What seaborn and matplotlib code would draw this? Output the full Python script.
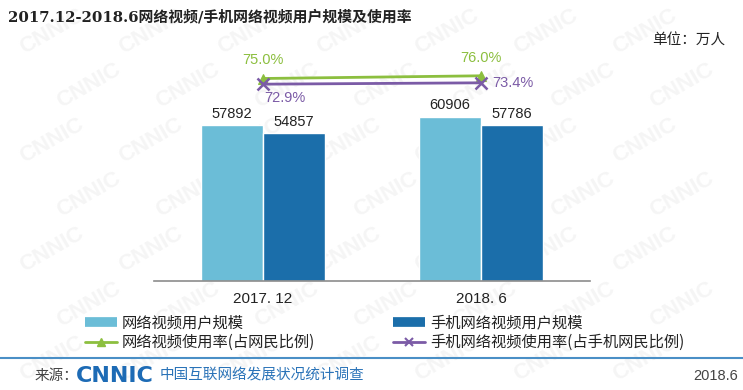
import numpy as np
import pandas as pd
import matplotlib
matplotlib.use('Agg')
import matplotlib.pyplot as plt
import seaborn as sns
from matplotlib.lines import Line2D

# data
periods = ['2017. 12', '2018. 6']
users = [57892, 60906]
mobile_users = [54857, 57786]
rate = [75.0, 76.0]
mobile_rate = [72.9, 73.4]
series_names = ['网络视频用户规模', '手机网络视频用户规模']
rate_names = ['网络视频使用率(占网民比例)', '手机网络视频使用率(占手机网民比例)']

sns.set_theme(style='white')
plt.rcParams['font.family'] = ['Liberation Sans', 'Noto Sans CJK SC', 'DejaVu Sans']

c_light = '#6bbdd7'
c_dark = '#1b6eaa'
c_green = '#8cbf3f'
c_purple = '#7b5ba6'

fig = plt.figure(figsize=(7.43, 3.90), dpi=100)

# faint watermark, kept behind the axes and inside the figure
for row in range(7):
    for col in range(7):
        fig.text(0.07 + col * 0.133 + (row % 2) * 0.05, 0.08 + row * 0.14, 'CNNIC',
                 fontsize=16, fontweight='bold', color='#f5f5f5', rotation=30,
                 zorder=-5, ha='center', va='center')

ax = fig.add_axes([154 / 743, 109 / 390, 436 / 743, 270 / 390])
ax.patch.set_alpha(0)

df = pd.DataFrame({
    'period': periods * 2,
    'value': users + mobile_users,
    'series': [series_names[0]] * 2 + [series_names[1]] * 2,
})
sns.barplot(data=df, x='period', y='value', hue='series', ax=ax,
            palette=[c_light, c_dark], width=0.566, saturation=1,
            legend=False)
for cont in ax.containers:
    ax.bar_label(cont, fmt='%d', fontsize=10.5, padding=3, color='#222222')

ax.set_xlim(-0.5, 1.5)
ax.set_ylim(0, 100000)
ax.set_xlabel('')
ax.set_ylabel('')
ax.set_yticks([])
ax.tick_params(axis='x', length=0, labelsize=11, pad=8, colors='#222222')
for s in ['top', 'left', 'right']:
    ax.spines[s].set_visible(False)
ax.spines['bottom'].set_color('#8c8c8c')
ax.spines['bottom'].set_linewidth(1.2)

ax2 = ax.twinx()
ax2.patch.set_alpha(0)
sns.lineplot(x=periods, y=rate, ax=ax2, color=c_green, marker='^',
             markersize=7, linewidth=2, markeredgecolor=c_green)
sns.lineplot(x=periods, y=mobile_rate, ax=ax2, color=c_purple, marker='x',
             markersize=8, linewidth=2, markeredgewidth=1.8,
             markeredgecolor=c_purple)
ax2.set_ylim(0, 100)
ax2.set_yticks([])
ax2.set_ylabel('')
for s in ax2.spines.values():
    s.set_visible(False)

for i, v in enumerate(rate):
    ax2.annotate(f'{v:.1f}%', (i, v), xytext=(0, 8), textcoords='offset points',
                 ha='center', va='bottom', fontsize=10.5, color=c_green)
ax2.annotate(f'{mobile_rate[0]:.1f}%', (0, mobile_rate[0]), xytext=(16, -5),
             textcoords='offset points', ha='center', va='top', fontsize=10.5,
             color=c_purple)
ax2.annotate(f'{mobile_rate[1]:.1f}%', (1, mobile_rate[1]), xytext=(8, 0),
             textcoords='offset points', ha='left', va='center', fontsize=10.5,
             color=c_purple)

# title and unit
fig.text(8 / 743, 1 - 17 / 390, '2017.12-2018.6网络视频/手机网络视频用户规模及使用率',
         family=['DejaVu Serif', 'Noto Sans CJK SC'], fontweight='bold',
         fontsize=10.7, va='center', ha='left', color='#222222')
fig.text(725 / 743, 1 - 41 / 390, '单位：万人', family=['Noto Sans CJK SC'],
         fontsize=10.5, va='center', ha='right', color='#222222')

# legend
h_bars = [Line2D([], [], color=c, lw=7, solid_capstyle='butt') for c in (c_light, c_dark)]
h_lines = [Line2D([], [], color=c_green, marker='^', lw=2, markersize=6),
           Line2D([], [], color=c_purple, marker='x', lw=2, markersize=6,
                  markeredgewidth=1.5)]
for k, x0 in enumerate([77, 385]):
    lg = fig.legend([h_bars[k], h_lines[k]], [series_names[k], rate_names[k]],
                    loc='upper left', bbox_to_anchor=(x0 / 743, 1 - 307 / 390),
                    frameon=False, handlelength=2.1,
                    handletextpad=0.35, labelspacing=0.15, borderpad=0,
                    prop={'family': ['Noto Sans CJK SC'], 'size': 11})
    for t in lg.get_texts():
        t.set_color('#222222')

# footer
fig.add_artist(Line2D([0, 1], [1 - 358 / 390] * 2, color='#4a8fc6', lw=1.5,
                      transform=fig.transFigure))
fig.text(35 / 743, 1 - 376 / 390, '来源：', family=['Noto Sans CJK SC'],
         fontsize=10.5, va='center', color='#444444')
fig.text(76 / 743, 1 - 376 / 390, 'CNNIC', family=['DejaVu Sans'],
         fontweight='bold', fontsize=16, va='center', color='#1d6bb5')
fig.text(160 / 743, 1 - 376 / 390, '中国互联网络发展状况统计调查',
         family=['Noto Sans CJK SC'], fontsize=10.5, va='center', color='#2a73b8')
fig.text(738 / 743, 1 - 376 / 390, '2018.6', family=['Liberation Sans'],
         fontsize=10.5, va='center', ha='right', color='#444444')

fig.savefig('out.png', dpi=100, facecolor='white')
